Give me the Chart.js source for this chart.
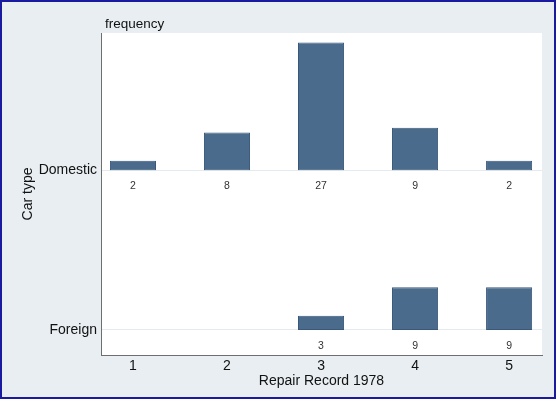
<!DOCTYPE html>
<html>
<head>
<meta charset="utf-8">
<script src="https://cdn.jsdelivr.net/npm/chart.js@4/dist/chart.umd.min.js"></script>
<style>
  html, body { margin: 0; padding: 0; background: #e8eef1; }
  #wrap { width: 556px; height: 399px; }
</style>
</head>
<body>
<div id="wrap"><canvas id="chart" width="556" height="399"></canvas></div>
<script>
// repair record categories on the x axis
const repairs = [1, 2, 3, 4, 5];
const carTypes = ["Domestic", "Foreign"];
// frequency per repair record (null = no cars)
const domesticFreq = [2, 8, 27, 9, 2];
const foreignFreq = [null, null, 3, 9, 9];
// baseline of each row on the y scale (in frequency units)
const rowBase = { Domestic: 39, Foreign: 5.3 };

const barFill = "#4a6b8c";
const barEdge = "#39587a";
const FONT = "'Liberation Sans', Arial, sans-serif";

function rowData(freqs, base) {
  return repairs
    .map((r, i) => (freqs[i] == null ? null : { x: r, y: [base, base + freqs[i]], f: freqs[i] }))
    .filter((d) => d);
}

const frame = {
  id: "frame",
  beforeDraw(chart) {
    const { ctx, chartArea: a } = chart;
    ctx.save();
    ctx.fillStyle = "#e8eef1";
    ctx.fillRect(0, 0, chart.width, chart.height);
    ctx.fillStyle = "#ffffff";
    ctx.fillRect(a.left, a.top, a.right - a.left, a.bottom - a.top);
    ctx.restore();
  },
  afterDraw(chart) {
    const { ctx, chartArea: a } = chart;
    const xs = chart.scales.x;
    const ys = chart.scales.y;
    ctx.save();
    // value labels under each bar
    ctx.font = "10.5px " + FONT;
    ctx.fillStyle = "#333";
    ctx.textAlign = "center";
    ctx.textBaseline = "middle";
    chart.data.datasets.forEach((ds) => {
      ds.data.forEach((d) => {
        ctx.fillText(String(d.f), xs.getPixelForValue(d.x), ys.getPixelForValue(d.y[0]) + 16);
      });
    });
    // top-left label
    ctx.font = "13.5px " + FONT;
    ctx.fillStyle = "#111";
    ctx.textAlign = "left";
    ctx.fillText("frequency", a.left + 4, 24);
    // outer border
    ctx.strokeStyle = "#1a1aa0";
    ctx.lineWidth = 2;
    ctx.strokeRect(1, 1, chart.width - 2, chart.height - 2);
    ctx.restore();
  },
};

new Chart(document.getElementById("chart"), {
  type: "bar",
  data: {
    datasets: [
      {
        label: "Domestic",
        data: rowData(domesticFreq, rowBase.Domestic),
        backgroundColor: barFill,
        borderColor: barEdge,
        borderWidth: 1,
        borderSkipped: false,
        grouped: false,
        barPercentage: 0.49,
        categoryPercentage: 1,
      },
      {
        label: "Foreign",
        data: rowData(foreignFreq, rowBase.Foreign),
        backgroundColor: barFill,
        borderColor: barEdge,
        borderWidth: 1,
        borderSkipped: false,
        grouped: false,
        barPercentage: 0.49,
        categoryPercentage: 1,
      },
    ],
  },
  options: {
    responsive: false,
    animation: false,
    layout: { padding: { top: 33, right: 14, bottom: 0, left: 0 } },
    plugins: {
      legend: { display: false },
      tooltip: { enabled: false },
    },
    scales: {
      x: {
        type: "linear",
        min: 0.66,
        max: 5.35,
        offset: false,
        afterFit: (s) => { s.height = 44; },
        afterBuildTicks: (s) => { s.ticks = repairs.map((v) => ({ value: v })); },
        ticks: {
          color: "#111",
          padding: 3,
          font: { size: 14, family: FONT },
          callback: (v) => String(v),
        },
        grid: { display: false, drawTicks: false },
        border: { display: true, color: "#6e6e6e", width: 1 },
        title: {
          display: true,
          text: "Repair Record 1978",
          color: "#111",
          padding: { top: 0, bottom: 9 },
          font: { size: 14, family: FONT },
        },
      },
      y: {
        type: "linear",
        min: 0,
        max: 68,
        afterFit: (s) => { s.width = 101; },
        afterBuildTicks: (s) => {
          s.ticks = carTypes.map((c) => ({ value: rowBase[c] }));
        },
        ticks: {
          color: "#111",
          padding: 4,
          font: { size: 14, family: FONT },
          callback: (v) => carTypes.find((c) => rowBase[c] === v) || "",
        },
        grid: { display: true, color: "#e4ebef", drawTicks: false },
        border: { display: true, color: "#6e6e6e", width: 1 },
        title: {
          display: true,
          text: "Car type",
          color: "#111",
          padding: { top: 20, bottom: 0 },
          font: { size: 14, family: FONT },
        },
      },
    },
  },
  plugins: [frame],
});
</script>
</body>
</html>
